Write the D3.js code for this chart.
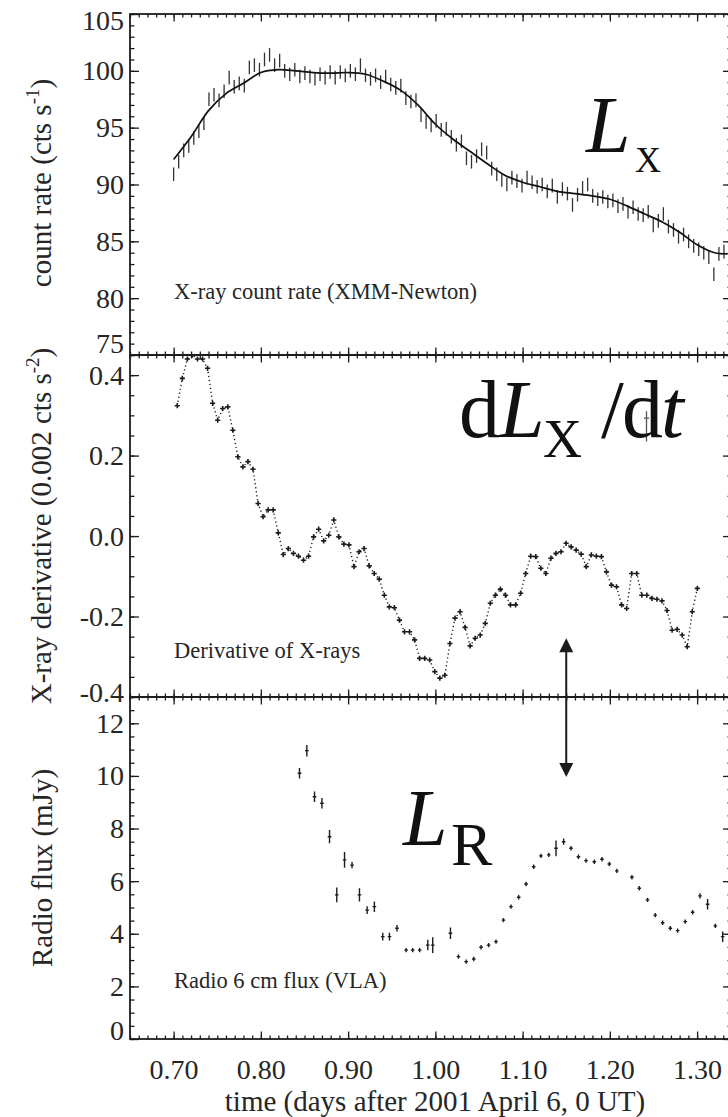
<!DOCTYPE html>
<html>
<head>
<meta charset="utf-8">
<script src="https://cdn.jsdelivr.net/npm/d3@7"></script>
<style>
  body { margin: 0; background: #fff; }
  svg { display: block; }
</style>
</head>
<body>
<svg id="chart" width="728" height="1117"></svg>
<script>
// ---------------- data ----------------
// X-ray count rate, 500 s bins starting at t = 0.700 d
const binDays = 500 / 86400;
const rateStart = 0.700;
const rateValues = [
  90.9, 92.0, 93.0, 93.4, 94.1, 94.7, 95.4, 97.5, 97.9, 97.4,
  98.2, 99.4, 98.6, 98.9, 98.7, 100.3, 100.5, 100.1, 101.0, 101.4,
  100.5, 100.9, 100.0, 99.7, 100.1, 99.5, 99.8, 99.5, 99.3, 99.7,
  99.4, 99.9, 99.4, 99.9, 99.6, 100.0, 99.7, 100.5, 99.6, 99.3,
  99.6, 99.0, 99.5, 98.8, 98.5, 98.7, 97.6, 97.3, 97.4, 96.1,
  95.5, 95.2, 95.6, 94.8, 94.9, 94.2, 93.5, 93.8, 92.3, 92.0,
  92.5, 93.1, 92.8, 91.4, 90.9, 90.4, 90.0, 90.6, 90.3, 89.9,
  90.6, 90.2, 89.8, 90.0, 89.4, 89.9, 88.9, 89.6, 89.2, 88.2,
  89.1, 89.7, 90.0, 89.0, 88.7, 88.9, 88.5, 88.6, 88.1, 88.3,
  87.6, 88.0, 87.4, 87.3, 87.6, 86.4, 86.8, 87.4, 86.3, 86.0,
  85.4, 85.6, 85.0, 84.6, 84.3, 84.0, 83.6, 82.1, 83.9, 84.1
];
const rateError = 0.6;

// smoothed light curve
const fitTimes = [0.70, 0.72, 0.74, 0.76, 0.78, 0.80, 0.82, 0.84, 0.86, 0.88, 0.90,
  0.92, 0.94, 0.96, 0.98, 1.00, 1.02, 1.04, 1.06, 1.08, 1.10, 1.12, 1.14, 1.16,
  1.18, 1.20, 1.22, 1.24, 1.26, 1.28, 1.30, 1.32, 1.335];
const fitValues = [92.2, 94.2, 96.5, 98.0, 98.9, 99.85, 100.1, 100.0, 99.85, 99.8, 99.85,
  99.7, 99.1, 98.3, 97.0, 95.3, 94.0, 92.9, 91.8, 90.8, 90.2, 89.8, 89.4, 89.2,
  89.0, 88.7, 88.1, 87.4, 86.7, 85.8, 84.7, 84.0, 83.9];

// derivative of the X-ray rate (units of 0.002 cts s^-2), same bin size
const derivStart = 0.7042;
const derivValues = [
  0.324, 0.392, 0.44, 0.45, 0.44, 0.44, 0.417, 0.33, 0.288, 0.317,
  0.321, 0.263, 0.197, 0.172, 0.185, 0.166, 0.081, 0.048, 0.065, 0.065,
  0.008, -0.046, -0.031, -0.043, -0.050, -0.060, -0.050, -0.002, 0.017, -0.012,
  0.002, 0.040, -0.002, -0.020, -0.022, -0.076, -0.039, -0.031, -0.074, -0.093,
  -0.107, -0.147, -0.176, -0.178, -0.209, -0.238, -0.238, -0.258, -0.304, -0.304,
  -0.308, -0.337, -0.353, -0.346, -0.267, -0.204, -0.188, -0.227, -0.273, -0.254,
  -0.246, -0.217, -0.167, -0.147, -0.132, -0.147, -0.171, -0.171, -0.142, -0.093,
  -0.050, -0.051, -0.080, -0.093, -0.055, -0.043, -0.039, -0.018, -0.027, -0.035,
  -0.045, -0.076, -0.047, -0.050, -0.051, -0.089, -0.122, -0.126, -0.171, -0.180,
  -0.093, -0.093, -0.147, -0.147, -0.155, -0.157, -0.161, -0.185, -0.234, -0.232,
  -0.246, -0.275, -0.188, -0.130
];
// isolated point with error bar in the derivative panel
const derivExtraTime = [1.242];
const derivExtraValue = [0.293];
const derivExtraLow = [0.235];
const derivExtraHigh = [0.310];

// VLA 6 cm radio flux (mJy)
const radioTimes = [
  0.8443, 0.8527, 0.8615, 0.8700, 0.8787, 0.8870, 0.8959, 0.9045, 0.9130, 0.9218,
  0.9301, 0.9397, 0.9474, 0.9560, 0.9665, 0.9740, 0.9820, 0.9913, 0.9970, 1.0173,
  1.0265, 1.0353, 1.0440, 1.0524, 1.0610, 1.0695, 1.0780, 1.0867, 1.0955, 1.1040,
  1.1127, 1.1210, 1.1300, 1.1383, 1.1470, 1.1555, 1.1640, 1.1727, 1.1822, 1.1910,
  1.1994, 1.2080, 1.2253, 1.2337, 1.2432, 1.2520, 1.2605, 1.2693, 1.2777, 1.2864,
  1.2949, 1.3033, 1.3120, 1.3209, 1.3293
];
const radioFlux = [
  10.10, 10.96, 9.21, 8.96, 7.69, 5.48, 6.81, 6.61, 5.48, 4.90,
  5.03, 3.89, 3.89, 4.21, 3.38, 3.38, 3.38, 3.57, 3.57, 4.02,
  3.13, 2.94, 3.04, 3.49, 3.57, 3.70, 4.52, 5.03, 5.39, 5.89,
  6.55, 6.96, 7.00, 7.25, 7.50, 7.25, 6.93, 6.78, 6.74, 6.83,
  6.65, 6.39, 6.15, 5.73, 5.29, 4.71, 4.42, 4.21, 4.12, 4.46,
  4.82, 5.44, 5.12, 4.30, 3.89
];
const radioErr = [
  0.20, 0.22, 0.20, 0.20, 0.25, 0.28, 0.30, 0.12, 0.25, 0.15,
  0.20, 0.15, 0.15, 0.12, 0.08, 0.08, 0.08, 0.20, 0.30, 0.22,
  0.08, 0.08, 0.08, 0.08, 0.08, 0.08, 0.08, 0.08, 0.08, 0.08,
  0.08, 0.08, 0.08, 0.30, 0.12, 0.08, 0.08, 0.08, 0.08, 0.08,
  0.08, 0.08, 0.08, 0.08, 0.08, 0.08, 0.08, 0.08, 0.08, 0.08,
  0.08, 0.10, 0.20, 0.08, 0.20
];

// axis ticks
const timeTicks = [0.70, 0.80, 0.90, 1.00, 1.10, 1.20, 1.30];
const rateTicks = [75, 80, 85, 90, 95, 100, 105];
const derivTicks = [-0.4, -0.2, 0.0, 0.2, 0.4];
const radioTicks = [0, 2, 4, 6, 8, 10, 12];

// marker pointing from the derivative maximum to the radio peak
const arrowTime = 1.15;
const arrowDerivEnd = -0.254;
const arrowRadioEnd = 9.96;

// ---------------- drawing ----------------
const FONT = '"Liberation Serif", "Times New Roman", Times, serif';
const INK = "#1c1c1c";
const TXT = "#262626";
const svg = d3.select("#chart");

const xLeft = 130, xRight = 732;
const x = d3.scaleLinear().domain([0.65, 1.34]).range([xLeft, xRight]);

const panels = [
  { top: 14,  bottom: 355,  y: d3.scaleLinear().domain([75, 105]).range([355, 14]),
    major: rateTicks, minor: d3.range(75, 106, 1), fmt: d3.format("d"), nudge: [-11, 7] },
  { top: 355, bottom: 697,  y: d3.scaleLinear().domain([-0.4, 0.45]).range([697, 355]),
    major: derivTicks, minor: d3.range(-8, 10).map(i => i * 0.05),
    fmt: d => d3.format(".1f")(d).replace("\u2212", "-"), nudge: [-4, 0] },
  { top: 697, bottom: 1039, y: d3.scaleLinear().domain([0, 13]).range([1039, 697]),
    major: radioTicks, minor: d3.range(0, 27).map(i => i * 0.5), fmt: d3.format("d"), nudge: [-8, 0] }
];
const [pRate, pDeriv, pRadio] = panels;

const xMinor = d3.range(65, 135).map(i => i / 100);

function tickGroup(factory, scale, transform, values, len, fmt, pad) {
  const axis = factory(scale).tickValues(values).tickSize(-len).tickSizeOuter(0)
    .tickFormat(fmt || (() => ""));
  if (pad != null) axis.tickPadding(pad);
  const g = svg.append("g").attr("transform", transform).call(axis);
  g.select(".domain").remove();
  g.selectAll(".tick line").attr("stroke", INK).attr("stroke-width", 1.3);
  g.selectAll(".tick text")
    .attr("font-family", FONT).attr("font-size", 28).attr("fill", TXT);
  return g;
}

// clip regions for each panel
const defs = svg.append("defs");
panels.forEach((p, i) => {
  defs.append("clipPath").attr("id", "clip" + i)
    .append("rect").attr("x", xLeft).attr("y", p.top)
    .attr("width", xRight - xLeft).attr("height", p.bottom - p.top);
});

// ticks on all four sides of every panel
panels.forEach((p, i) => {
  tickGroup(d3.axisTop, x, `translate(0,${p.top})`, xMinor, 3.5);
  tickGroup(d3.axisTop, x, `translate(0,${p.top})`, timeTicks, 7.5);
  tickGroup(d3.axisBottom, x, `translate(0,${p.bottom})`, xMinor, 3.5);
  const last = i === panels.length - 1;
  tickGroup(d3.axisBottom, x, `translate(0,${p.bottom})`, timeTicks, 7.5,
    last ? d3.format(".2f") : null, last ? 20 : null);
  tickGroup(d3.axisLeft, p.y, `translate(${xLeft},0)`, p.minor, 4.5);
  const gl = tickGroup(d3.axisLeft, p.y, `translate(${xLeft},0)`, p.major, 9, p.fmt, 6);
  tickGroup(d3.axisRight, p.y, `translate(${xRight},0)`, p.minor, 4.5);
  tickGroup(d3.axisRight, p.y, `translate(${xRight},0)`, p.major, 9);
  // keep the edge labels inside the frame height
  const [d0, d1] = p.y.domain();
  gl.selectAll(".tick text").attr("y", d => d === d1 ? p.nudge[1] : d === d0 ? p.nudge[0] : 0);
});

// frames
panels.forEach(p => {
  svg.append("rect").attr("x", xLeft).attr("y", p.top)
    .attr("width", xRight - xLeft).attr("height", p.bottom - p.top)
    .attr("fill", "none").attr("stroke", INK).attr("stroke-width", 1.8);
});

// ---- X-ray count rate ----
const gRate = svg.append("g").attr("clip-path", "url(#clip0)");
const rateT = rateValues.map((v, i) => rateStart + i * binDays);
gRate.selectAll("line.err").data(rateValues).join("line")
  .attr("class", "err")
  .attr("x1", (v, i) => x(rateT[i])).attr("x2", (v, i) => x(rateT[i]))
  .attr("y1", v => pRate.y(v - rateError)).attr("y2", v => pRate.y(v + rateError))
  .attr("stroke", "#333").attr("stroke-width", 1.3);
gRate.append("path")
  .datum(fitTimes.map((t, i) => [t, fitValues[i]]))
  .attr("d", d3.line().x(d => x(d[0])).y(d => pRate.y(d[1])).curve(d3.curveCatmullRom))
  .attr("fill", "none").attr("stroke", "#111").attr("stroke-width", 1.7);

// ---- derivative ----
const gDer = svg.append("g").attr("clip-path", "url(#clip1)");
const derivPts = derivValues.map((v, i) => [derivStart + i * binDays, v]);
gDer.append("path").datum(derivPts)
  .attr("d", d3.line().x(d => x(d[0])).y(d => pDeriv.y(d[1])))
  .attr("fill", "none").attr("stroke", INK).attr("stroke-width", 1.4)
  .attr("stroke-dasharray", "1.2,2.8");
const plus = 2.6;
gDer.selectAll("path.pt").data(derivPts).join("path")
  .attr("class", "pt")
  .attr("d", d => {
    const cx = x(d[0]), cy = pDeriv.y(d[1]);
    return `M${cx - plus},${cy}H${cx + plus}M${cx},${cy - plus}V${cy + plus}`;
  })
  .attr("stroke", INK).attr("stroke-width", 1.6);
derivExtraTime.forEach((t, i) => {
  const cx = x(t), cy = pDeriv.y(derivExtraValue[i]);
  gDer.append("path")
    .attr("d", `M${cx - plus},${cy}H${cx + plus}M${cx},${pDeriv.y(derivExtraHigh[i])}V${pDeriv.y(derivExtraLow[i])}`)
    .attr("stroke", "#555").attr("stroke-width", 1.3);
});

// ---- radio ----
const gRad = svg.append("g").attr("clip-path", "url(#clip2)");
radioTimes.forEach((t, i) => {
  const cx = x(t), cy = pRadio.y(radioFlux[i]);
  const y1 = Math.min(pRadio.y(radioFlux[i] + radioErr[i]), cy - 2.2);
  const y2 = Math.max(pRadio.y(radioFlux[i] - radioErr[i]), cy + 2.2);
  gRad.append("path")
    .attr("d", `M${cx},${y1}V${y2}M${cx - 1.8},${cy}H${cx + 1.8}`)
    .attr("stroke", INK).attr("stroke-width", 1.4);
});

// ---- arrow linking the two panels ----
const ax = x(arrowTime);
const aTop = pDeriv.y(arrowDerivEnd), aBot = pRadio.y(arrowRadioEnd);
const head = 14, half = 7;
svg.append("line").attr("x1", ax).attr("x2", ax)
  .attr("y1", aTop + head - 1).attr("y2", aBot - head + 1)
  .attr("stroke", INK).attr("stroke-width", 2);
svg.append("path").attr("d", `M${ax},${aTop}L${ax - half},${aTop + head}L${ax + half},${aTop + head}Z`).attr("fill", INK);
svg.append("path").attr("d", `M${ax},${aBot}L${ax - half},${aBot - head}L${ax + half},${aBot - head}Z`).attr("fill", INK);

// ---- panel captions ----
const caption = (cx, cy, s) => svg.append("text").attr("x", cx).attr("y", cy)
  .attr("font-family", FONT).attr("font-size", 22.5).attr("fill", TXT).text(s);
caption(174, 299, "X-ray count rate (XMM-Newton)");
caption(174, 658, "Derivative of X-rays");
caption(174, 988, "Radio 6 cm flux (VLA)");

// ---- large symbols ----
function symbol(parts) {
  const t = svg.append("text").attr("font-family", FONT).attr("fill", "#111");
  parts.forEach(p => t.append("tspan").attr("x", p.x).attr("y", p.y)
    .attr("font-size", p.size).attr("font-style", p.italic ? "italic" : "normal").text(p.s));
}
symbol([{ s: "L", x: 586, y: 152, size: 80, italic: true },
        { s: "X", x: 635, y: 172, size: 36 }]);
symbol([{ s: "d", x: 459, y: 437, size: 82 },
        { s: "L", x: 499, y: 437, size: 82, italic: true },
        { s: "X", x: 543, y: 457, size: 54 },
        { s: "/", x: 601, y: 437, size: 82 },
        { s: "d", x: 622, y: 437, size: 82 },
        { s: "t", x: 661, y: 437, size: 82, italic: true }]);
symbol([{ s: "L", x: 403, y: 845, size: 80, italic: true },
        { s: "R", x: 451, y: 865, size: 62 }]);

// ---- axis titles (rotated, centred on measured length) ----
function yTitle(cx, cy, main, sup, tail) {
  const t = svg.append("text")
    .attr("font-family", FONT).attr("font-size", 29).attr("fill", TXT);
  t.append("tspan").text(main);
  if (sup) {
    t.append("tspan").attr("font-size", 19).attr("dy", -12).text(sup);
    t.append("tspan").attr("dy", 12).text(tail);
  }
  const len = t.node().getComputedTextLength();
  t.attr("x", -len / 2)
   .attr("transform", `translate(${cx},${cy}) rotate(-90)`);
}
yTitle(51, 183, "count rate (cts s", "-1", ")");
yTitle(51, 526, "X-ray derivative (0.002 cts s", "-2", ")");
yTitle(52, 868, "Radio flux (mJy)");

svg.append("text").attr("x", 435).attr("y", 1111).attr("text-anchor", "middle")
  .attr("font-family", FONT).attr("font-size", 29).attr("fill", TXT)
  .text("time (days after 2001 April 6, 0 UT)");
</script>
</body>
</html>
